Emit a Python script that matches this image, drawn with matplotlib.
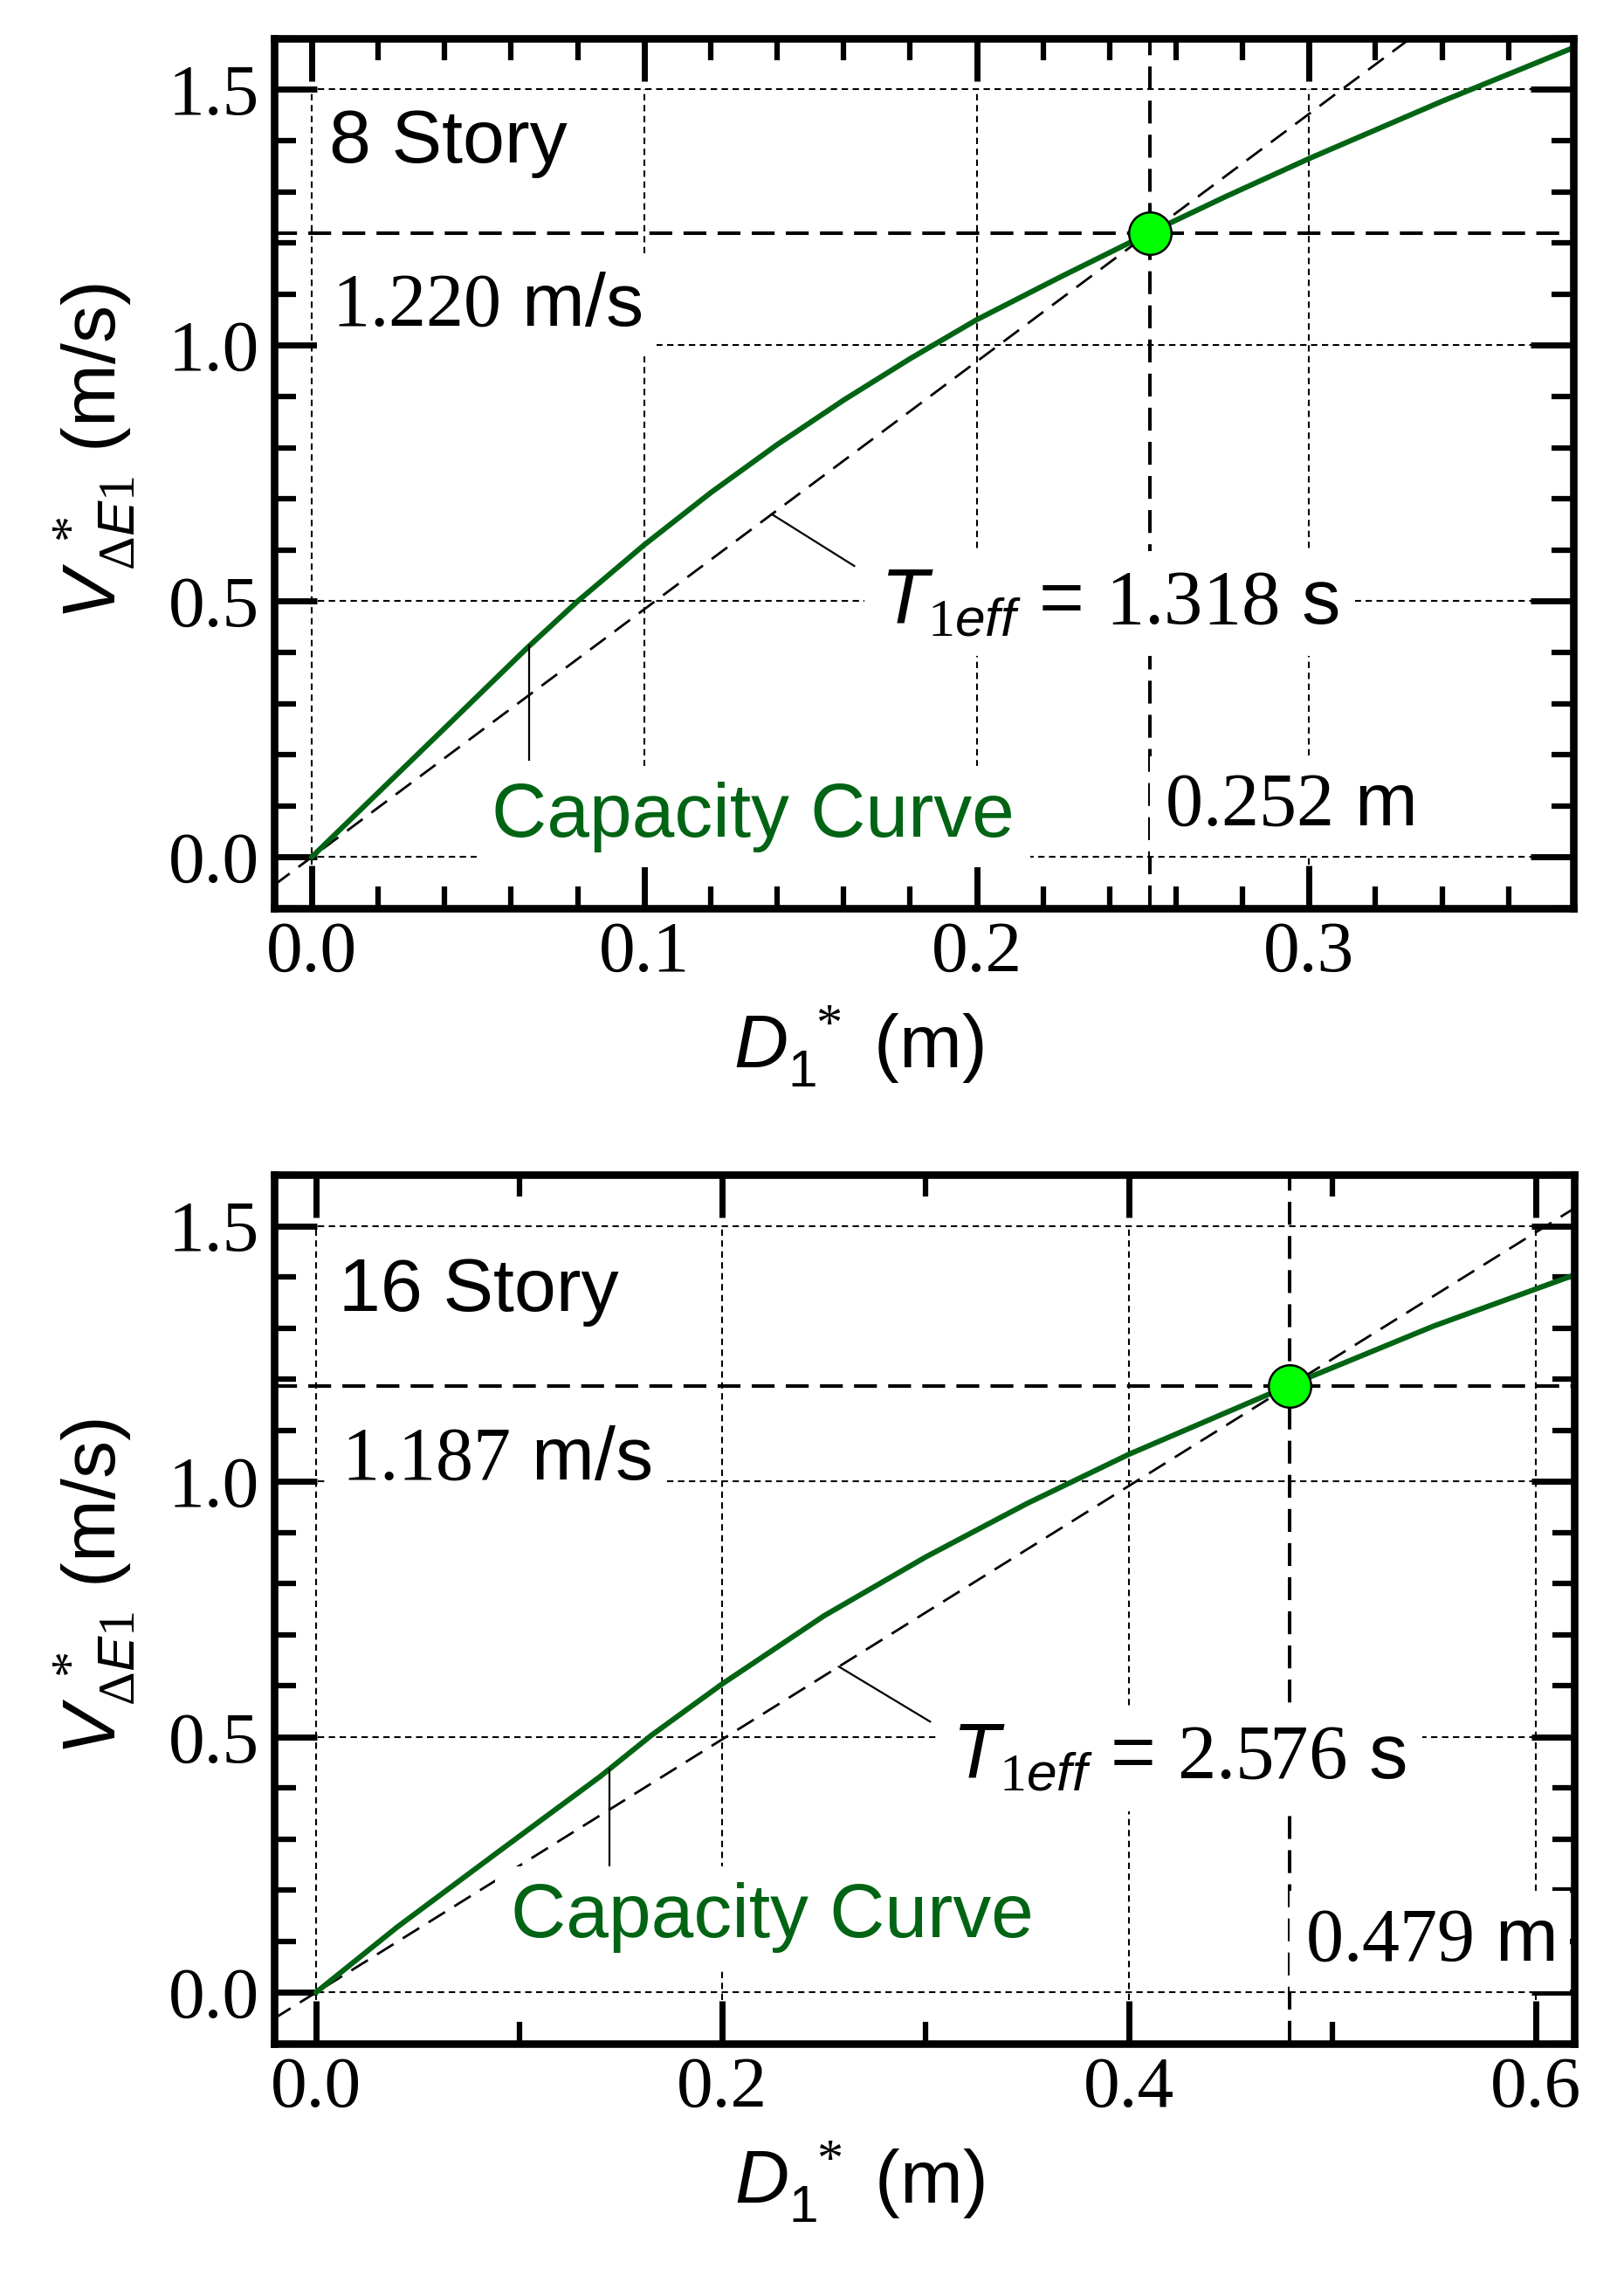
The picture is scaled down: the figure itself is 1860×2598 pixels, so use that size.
import matplotlib
matplotlib.use('Agg')
import matplotlib.pyplot as plt
from matplotlib.ticker import MultipleLocator, FormatStrFormatter

plt.rcParams['font.family'] = ['Liberation Sans', 'DejaVu Sans']
plt.rcParams['mathtext.fontset'] = 'custom'
plt.rcParams['mathtext.rm'] = 'Liberation Serif'
plt.rcParams['mathtext.it'] = 'Liberation Sans:italic'
plt.rcParams['mathtext.sf'] = 'Liberation Sans'
plt.rcParams['mathtext.bf'] = 'Liberation Sans:bold'

# ---------------- data ----------------
d8 = [0.0, 0.02, 0.04, 0.065, 0.08, 0.10, 0.12, 0.14, 0.16, 0.18, 0.20, 0.225, 0.252,
      0.275, 0.30, 0.34, 0.38]
v8 = [0.0, 0.126, 0.252, 0.41, 0.50, 0.61, 0.712, 0.806, 0.893, 0.974, 1.05, 1.133, 1.220,
      1.291, 1.365, 1.477, 1.583]

d16 = [0.0, 0.04, 0.09, 0.14, 0.165, 0.20, 0.25, 0.30, 0.35, 0.40, 0.4785, 0.55, 0.62]
v16 = [0.0, 0.128, 0.276, 0.423, 0.503, 0.604, 0.737, 0.852, 0.957, 1.053, 1.187, 1.304, 1.405]

stories = ['8 Story', '16 Story']
perf_d = [0.252, 0.479]
perf_v = [1.220, 1.187]
t_eff = ['1.318', '2.576']

xticks_major = [[0.0, 0.1, 0.2, 0.3], [0.0, 0.2, 0.4, 0.6]]
xminor_step = [0.02, 0.1]
yticks_major = [0.0, 0.5, 1.0, 1.5]
xlims = [(-0.0113, 0.3795), (-0.0205, 0.619)]
ylim = (-0.1, 1.6)

curves_d = [d8, d16]
curves_v = [v8, v16]

# annotation layout (data coordinates)
layout = [
    dict(story=(0.0052, 1.358), vel=(0.006, 1.0387), T=(0.171, 0.456), disp=(0.2567, 0.062),
         cap=(0.0542, 0.04), cap_lead=(0.0655, 0.413, 0.19), T_lead=(0.1384, 0.1632, 0.569)),
    dict(story=(0.0115, 1.334), vel=(0.0128, 1.004), T=(0.313, 0.418), disp=(0.4866, 0.063),
         cap=(0.0958, 0.109), cap_lead=(0.1444, 0.437, 0.221), T_lead=(0.2573, 0.3022, 0.530)),
]

GREEN = '#006414'
FS = 62

fig = plt.figure(figsize=(18.6, 25.98), dpi=100)
axes_rects = [[0.1688, 0.5997, 0.800, 0.3834], [0.1688, 0.0993, 0.8005, 0.3830]]

bbox = dict(boxstyle='square,pad=0.2', fc='white', ec='none')

for i in range(2):
    ax = fig.add_axes(axes_rects[i])
    ax.set_xlim(*xlims[i])
    ax.set_ylim(*ylim)

    # grid (dotted)
    for x in xticks_major[i]:
        ax.plot([x, x], [ylim[0], 1.5], color='black', lw=1.5, dashes=(3.5, 2.5), zorder=1)
    for y in yticks_major:
        ax.axhline(y, color='black', lw=1.5, dashes=(3.5, 2.5), zorder=1)

    # performance point guides
    ax.axhline(perf_v[i], color='black', lw=2.9, dashes=(6.5, 3.2), zorder=2)
    ax.axvline(perf_d[i], color='black', lw=2.9, dashes=(6.5, 3.2), zorder=2)
    ax.axline((0.0, 0.0), (perf_d[i], perf_v[i]), color='black', lw=2.0, dashes=(8, 4.5), zorder=2)

    # capacity curve
    ax.plot(curves_d[i], curves_v[i], color=GREEN, lw=4.4, zorder=3,
            solid_capstyle='round', solid_joinstyle='round')
    ax.plot([perf_d[i]], [perf_v[i]], 'o', ms=35, mfc='#00ff00', mec='black', mew=1.8, zorder=5)

    L = layout[i]
    # leader lines
    cx, cy0, cy1 = L['cap_lead']
    ax.plot([cx, cx], [cy0, cy1], color='black', lw=1.6, zorder=4)
    tx0, tx1, ty1 = L['T_lead']
    ty0 = perf_v[i] / perf_d[i] * tx0
    ax.plot([tx0, tx1], [ty0, ty1], color='black', lw=1.6, zorder=4)

    # texts
    ax.text(*L['story'], stories[i], fontsize=FS, ha='left', va='baseline', bbox=bbox, zorder=6)
    ax.text(*L['vel'], r'$\mathrm{%.3f}$ m/s' % perf_v[i], fontsize=FS, ha='left', va='baseline',
            bbox=bbox, zorder=6)
    ax.text(*L['T'], r'$T_{\mathit{1eff}}$ = $\mathrm{%s}$ s' % t_eff[i], fontsize=FS + 2,
            ha='left', va='baseline', bbox=bbox, zorder=6)
    ax.text(*L['disp'], r'$\mathrm{%.3f}$ m' % perf_d[i], fontsize=FS, ha='left', va='baseline',
            bbox=bbox, zorder=6)
    ax.text(*L['cap'], 'Capacity Curve', fontsize=FS + 1, color=GREEN, ha='left', va='baseline',
            bbox=bbox, zorder=6)

    # ticks
    ax.set_xticks(xticks_major[i])
    ax.xaxis.set_minor_locator(MultipleLocator(xminor_step[i]))
    ax.set_yticks(yticks_major)
    ax.yaxis.set_minor_locator(MultipleLocator(0.1))
    ax.xaxis.set_major_formatter(FormatStrFormatter('%.1f'))
    ax.yaxis.set_major_formatter(FormatStrFormatter('%.1f'))
    ax.tick_params(which='both', direction='in', top=True, right=True, color='black')
    ax.tick_params(which='major', length=35, width=5.0, labelsize=60,
                   labelfontfamily='Liberation Serif')
    ax.tick_params(axis='y', which='major', pad=12)
    ax.tick_params(axis='x', which='major', pad=10)
    ax.tick_params(which='minor', length=18, width=4.5)
    for s in ax.spines.values():
        s.set_linewidth(6.2)
        s.set_zorder(7)

    ax.set_xlabel(r'$D_{\mathsf{1}}^{\ *}$ (m)', fontsize=FS, labelpad=14)
    ax.xaxis.label.set_x(0.45)
    ax.set_ylabel(r'$V_{\mathit{\Delta E1}}^{\ *}$ (m/s)', fontsize=FS, labelpad=26)
    ax.yaxis.label.set_y(0.525)

fig.savefig('out.png', dpi=100)
